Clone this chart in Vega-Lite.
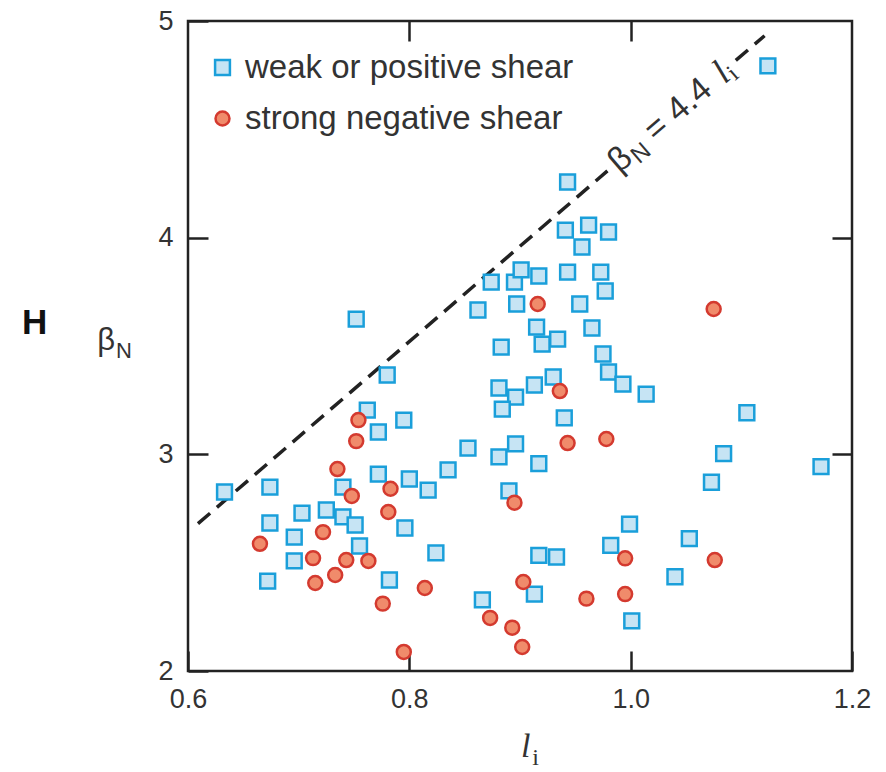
{
  "$schema": "https://vega.github.io/schema/vega-lite/v6.json",
  "width": 664,
  "height": 650,
  "autosize": {"type": "none"},
  "padding": {"left": 188, "top": 21, "right": 34, "bottom": 101},
  "background": "white",
  "config": {
    "view": {"stroke": "#222222", "strokeWidth": 2.5},
    "axis": {
      "domain": false,
      "grid": false,
      "labelFont": "Liberation Sans",
      "labelFontSize": 27,
      "labelColor": "#333333",
      "labelFlush": false,
      "tickColor": "#222222",
      "tickWidth": 2.5,
      "tickSize": -20,
      "labelPadding": 35,
      "title": null
    },
    "legend": {
      "padding": 0,
      "labelFont": "Liberation Sans",
      "labelFontSize": 33,
      "labelColor": "#333333",
      "labelOffset": 6,
      "labelLimit": 0,
      "rowPadding": 17,
      "symbolStrokeWidth": 2.5
    }
  },
  "datasets": {
    "obs": [
      {"group": "weak or positive shear", "li": 0.633, "bn": 2.826},
      {"group": "weak or positive shear", "li": 0.674, "bn": 2.849},
      {"group": "weak or positive shear", "li": 0.674, "bn": 2.683},
      {"group": "weak or positive shear", "li": 0.672, "bn": 2.415},
      {"group": "weak or positive shear", "li": 0.696, "bn": 2.618},
      {"group": "weak or positive shear", "li": 0.696, "bn": 2.508},
      {"group": "weak or positive shear", "li": 0.703, "bn": 2.729},
      {"group": "weak or positive shear", "li": 0.725, "bn": 2.743},
      {"group": "weak or positive shear", "li": 0.740, "bn": 2.849},
      {"group": "weak or positive shear", "li": 0.740, "bn": 2.711},
      {"group": "weak or positive shear", "li": 0.751, "bn": 2.674},
      {"group": "weak or positive shear", "li": 0.755, "bn": 2.577},
      {"group": "weak or positive shear", "li": 0.752, "bn": 3.624},
      {"group": "weak or positive shear", "li": 0.780, "bn": 3.366},
      {"group": "weak or positive shear", "li": 0.762, "bn": 3.204},
      {"group": "weak or positive shear", "li": 0.772, "bn": 3.103},
      {"group": "weak or positive shear", "li": 0.795, "bn": 3.158},
      {"group": "weak or positive shear", "li": 0.772, "bn": 2.909},
      {"group": "weak or positive shear", "li": 0.800, "bn": 2.886},
      {"group": "weak or positive shear", "li": 0.817, "bn": 2.835},
      {"group": "weak or positive shear", "li": 0.835, "bn": 2.928},
      {"group": "weak or positive shear", "li": 0.796, "bn": 2.660},
      {"group": "weak or positive shear", "li": 0.782, "bn": 2.420},
      {"group": "weak or positive shear", "li": 0.824, "bn": 2.545},
      {"group": "weak or positive shear", "li": 0.853, "bn": 3.029},
      {"group": "weak or positive shear", "li": 0.862, "bn": 3.666},
      {"group": "weak or positive shear", "li": 0.874, "bn": 3.795},
      {"group": "weak or positive shear", "li": 0.895, "bn": 3.795},
      {"group": "weak or positive shear", "li": 0.901, "bn": 3.851},
      {"group": "weak or positive shear", "li": 0.897, "bn": 3.694},
      {"group": "weak or positive shear", "li": 0.883, "bn": 3.495},
      {"group": "weak or positive shear", "li": 0.881, "bn": 3.306},
      {"group": "weak or positive shear", "li": 0.896, "bn": 3.264},
      {"group": "weak or positive shear", "li": 0.884, "bn": 3.209},
      {"group": "weak or positive shear", "li": 0.896, "bn": 3.048},
      {"group": "weak or positive shear", "li": 0.881, "bn": 2.988},
      {"group": "weak or positive shear", "li": 0.890, "bn": 2.831},
      {"group": "weak or positive shear", "li": 0.866, "bn": 2.328},
      {"group": "weak or positive shear", "li": 0.917, "bn": 3.823},
      {"group": "weak or positive shear", "li": 0.943, "bn": 3.841},
      {"group": "weak or positive shear", "li": 0.973, "bn": 3.841},
      {"group": "weak or positive shear", "li": 0.977, "bn": 3.754},
      {"group": "weak or positive shear", "li": 0.954, "bn": 3.694},
      {"group": "weak or positive shear", "li": 0.915, "bn": 3.587},
      {"group": "weak or positive shear", "li": 0.920, "bn": 3.509},
      {"group": "weak or positive shear", "li": 0.934, "bn": 3.532},
      {"group": "weak or positive shear", "li": 0.965, "bn": 3.583},
      {"group": "weak or positive shear", "li": 0.975, "bn": 3.463},
      {"group": "weak or positive shear", "li": 0.980, "bn": 3.380},
      {"group": "weak or positive shear", "li": 0.993, "bn": 3.324},
      {"group": "weak or positive shear", "li": 1.014, "bn": 3.278},
      {"group": "weak or positive shear", "li": 0.930, "bn": 3.357},
      {"group": "weak or positive shear", "li": 0.913, "bn": 3.320},
      {"group": "weak or positive shear", "li": 0.940, "bn": 3.168},
      {"group": "weak or positive shear", "li": 0.917, "bn": 2.957},
      {"group": "weak or positive shear", "li": 0.943, "bn": 4.257},
      {"group": "weak or positive shear", "li": 0.941, "bn": 4.035},
      {"group": "weak or positive shear", "li": 0.962, "bn": 4.058},
      {"group": "weak or positive shear", "li": 0.980, "bn": 4.026},
      {"group": "weak or positive shear", "li": 0.956, "bn": 3.957},
      {"group": "weak or positive shear", "li": 1.124, "bn": 4.793},
      {"group": "weak or positive shear", "li": 1.105, "bn": 3.192},
      {"group": "weak or positive shear", "li": 1.084, "bn": 3.003},
      {"group": "weak or positive shear", "li": 1.073, "bn": 2.871},
      {"group": "weak or positive shear", "li": 1.172, "bn": 2.943},
      {"group": "weak or positive shear", "li": 0.999, "bn": 2.678},
      {"group": "weak or positive shear", "li": 0.982, "bn": 2.580},
      {"group": "weak or positive shear", "li": 0.917, "bn": 2.534},
      {"group": "weak or positive shear", "li": 0.933, "bn": 2.526},
      {"group": "weak or positive shear", "li": 1.053, "bn": 2.611},
      {"group": "weak or positive shear", "li": 1.040, "bn": 2.435},
      {"group": "weak or positive shear", "li": 0.913, "bn": 2.355},
      {"group": "weak or positive shear", "li": 1.001, "bn": 2.231},
      {"group": "strong negative shear", "li": 0.754, "bn": 3.158},
      {"group": "strong negative shear", "li": 0.752, "bn": 3.061},
      {"group": "strong negative shear", "li": 0.916, "bn": 3.694},
      {"group": "strong negative shear", "li": 1.075, "bn": 3.671},
      {"group": "strong negative shear", "li": 0.936, "bn": 3.292},
      {"group": "strong negative shear", "li": 0.943, "bn": 3.052},
      {"group": "strong negative shear", "li": 0.978, "bn": 3.071},
      {"group": "strong negative shear", "li": 0.735, "bn": 2.932},
      {"group": "strong negative shear", "li": 0.748, "bn": 2.808},
      {"group": "strong negative shear", "li": 0.783, "bn": 2.841},
      {"group": "strong negative shear", "li": 0.895, "bn": 2.777},
      {"group": "strong negative shear", "li": 0.665, "bn": 2.587},
      {"group": "strong negative shear", "li": 0.722, "bn": 2.641},
      {"group": "strong negative shear", "li": 0.781, "bn": 2.734},
      {"group": "strong negative shear", "li": 0.713, "bn": 2.521},
      {"group": "strong negative shear", "li": 0.743, "bn": 2.512},
      {"group": "strong negative shear", "li": 0.763, "bn": 2.508},
      {"group": "strong negative shear", "li": 0.733, "bn": 2.443},
      {"group": "strong negative shear", "li": 0.715, "bn": 2.406},
      {"group": "strong negative shear", "li": 0.814, "bn": 2.383},
      {"group": "strong negative shear", "li": 0.776, "bn": 2.311},
      {"group": "strong negative shear", "li": 0.873, "bn": 2.245},
      {"group": "strong negative shear", "li": 0.893, "bn": 2.200},
      {"group": "strong negative shear", "li": 0.902, "bn": 2.111},
      {"group": "strong negative shear", "li": 0.795, "bn": 2.088},
      {"group": "strong negative shear", "li": 0.903, "bn": 2.411},
      {"group": "strong negative shear", "li": 0.995, "bn": 2.520},
      {"group": "strong negative shear", "li": 1.076, "bn": 2.512},
      {"group": "strong negative shear", "li": 0.960, "bn": 2.334},
      {"group": "strong negative shear", "li": 0.995, "bn": 2.355}
    ],
    "fit": [
      {"seg": "lower", "li": 0.609, "bn": 2.680},
      {"seg": "lower", "li": 0.979, "bn": 4.308},
      {"seg": "upper", "li": 1.095, "bn": 4.818},
      {"seg": "upper", "li": 1.121, "bn": 4.932}
    ],
    "anchor": [{}]
  },
  "layer": [
    {
      "data": {"name": "fit"},
      "mark": {"type": "line", "color": "#222222", "strokeWidth": 3.5, "strokeDash": [16, 9], "clip": true},
      "encoding": {
        "x": {"field": "li", "type": "quantitative", "scale": {"domain": [0.6, 1.2], "nice": false, "zero": false},
              "axis": {"orient": "top", "values": [0.8, 1.0], "labels": false}},
        "y": {"field": "bn", "type": "quantitative", "scale": {"domain": [2, 5], "nice": false, "zero": false},
              "axis": {"orient": "right", "values": [3, 4], "labels": false}},
        "detail": {"field": "seg"}
      }
    },
    {
      "data": {"name": "obs"},
      "mark": {"type": "point", "filled": true, "opacity": 1, "strokeWidth": 2.5},
      "encoding": {
        "x": {"field": "li", "type": "quantitative", "scale": {"domain": [0.6, 1.2], "nice": false, "zero": false},
              "axis": {"orient": "bottom", "values": [0.6, 0.8, 1.0, 1.2], "format": ".1f"}},
        "y": {"field": "bn", "type": "quantitative", "scale": {"domain": [2, 5], "nice": false, "zero": false},
              "axis": {"orient": "left", "values": [2, 3, 4, 5], "format": "d"}},
        "shape": {"field": "group", "type": "nominal",
                  "scale": {"domain": ["weak or positive shear", "strong negative shear"], "range": ["square", "circle"]},
                  "legend": {"title": null, "orient": "none", "legendX": 18, "legendY": 30, "direction": "vertical"}},
        "size": {"field": "group", "type": "nominal",
                 "scale": {"domain": ["weak or positive shear", "strong negative shear"], "range": [220, 195]},
                 "legend": {"title": null, "orient": "none", "legendX": 18, "legendY": 30, "direction": "vertical"}},
        "fill": {"field": "group", "type": "nominal",
                 "scale": {"domain": ["weak or positive shear", "strong negative shear"], "range": ["#C6E4F4", "#F08B6B"]},
                 "legend": {"title": null, "orient": "none", "legendX": 18, "legendY": 30, "direction": "vertical"}},
        "stroke": {"field": "group", "type": "nominal",
                   "scale": {"domain": ["weak or positive shear", "strong negative shear"], "range": ["#1A9FDA", "#D43A2F"]},
                   "legend": {"title": null, "orient": "none", "legendX": 18, "legendY": 30, "direction": "vertical"}}
      }
    },
    {
      "data": {"name": "anchor"},
      "mark": {"type": "text", "text": "β", "font": "Liberation Sans", "fontSize": 34, "color": "#333333", "angle": 319.26, "align": "left", "baseline": "middle"},
      "encoding": {
        "x": {"datum": 0.984, "type": "quantitative", "axis": null},
        "y": {"datum": 4.33, "type": "quantitative", "axis": null}
      }
    },
    {
      "data": {"name": "anchor"},
      "mark": {"type": "text", "text": "N", "font": "Liberation Sans", "fontSize": 24, "color": "#333333", "angle": 319.26, "align": "left", "baseline": "middle", "dx": 21, "dy": 9},
      "encoding": {
        "x": {"datum": 0.984, "type": "quantitative", "axis": null},
        "y": {"datum": 4.33, "type": "quantitative", "axis": null}
      }
    },
    {
      "data": {"name": "anchor"},
      "mark": {"type": "text", "text": "= 4.4", "font": "Liberation Sans", "fontSize": 34, "color": "#333333", "angle": 319.26, "align": "left", "baseline": "middle", "dx": 48},
      "encoding": {
        "x": {"datum": 0.984, "type": "quantitative", "axis": null},
        "y": {"datum": 4.33, "type": "quantitative", "axis": null}
      }
    },
    {
      "data": {"name": "anchor"},
      "mark": {"type": "text", "text": "l", "font": "Liberation Serif", "fontStyle": "italic", "fontSize": 36, "color": "#333333", "angle": 319.26, "align": "left", "baseline": "middle", "dx": 138},
      "encoding": {
        "x": {"datum": 0.984, "type": "quantitative", "axis": null},
        "y": {"datum": 4.33, "type": "quantitative", "axis": null}
      }
    },
    {
      "data": {"name": "anchor"},
      "mark": {"type": "text", "text": "i", "font": "Liberation Serif", "fontSize": 24, "color": "#333333", "angle": 319.26, "align": "left", "baseline": "middle", "dx": 148, "dy": 8},
      "encoding": {
        "x": {"datum": 0.984, "type": "quantitative", "axis": null},
        "y": {"datum": 4.33, "type": "quantitative", "axis": null}
      }
    },
    {
      "data": {"name": "anchor"},
      "mark": {"type": "text", "text": "β", "font": "Liberation Sans", "fontSize": 31, "color": "#333333", "align": "left", "baseline": "alphabetic"},
      "encoding": {
        "x": {"datum": 0.518, "type": "quantitative", "axis": null},
        "y": {"datum": 3.48, "type": "quantitative", "axis": null}
      }
    },
    {
      "data": {"name": "anchor"},
      "mark": {"type": "text", "text": "N", "font": "Liberation Sans", "fontSize": 22, "color": "#333333", "align": "left", "baseline": "alphabetic"},
      "encoding": {
        "x": {"datum": 0.535, "type": "quantitative", "axis": null},
        "y": {"datum": 3.444, "type": "quantitative", "axis": null}
      }
    },
    {
      "data": {"name": "anchor"},
      "mark": {"type": "text", "text": "H", "font": "Liberation Sans", "fontWeight": "bold", "fontSize": 35, "color": "#111111", "align": "left", "baseline": "alphabetic"},
      "encoding": {
        "x": {"datum": 0.450, "type": "quantitative", "axis": null},
        "y": {"datum": 3.555, "type": "quantitative", "axis": null}
      }
    },
    {
      "data": {"name": "anchor"},
      "mark": {"type": "text", "text": "l", "font": "Liberation Serif", "fontStyle": "italic", "fontSize": 34, "color": "#333333", "align": "left", "baseline": "alphabetic"},
      "encoding": {
        "x": {"datum": 0.901, "type": "quantitative", "axis": null},
        "y": {"datum": 1.603, "type": "quantitative", "axis": null}
      }
    },
    {
      "data": {"name": "anchor"},
      "mark": {"type": "text", "text": "i", "font": "Liberation Serif", "fontSize": 24, "color": "#333333", "align": "left", "baseline": "alphabetic"},
      "encoding": {
        "x": {"datum": 0.911, "type": "quantitative", "axis": null},
        "y": {"datum": 1.566, "type": "quantitative", "axis": null}
      }
    }
  ],
  "resolve": {"axis": {"x": "independent", "y": "independent"}}
}
